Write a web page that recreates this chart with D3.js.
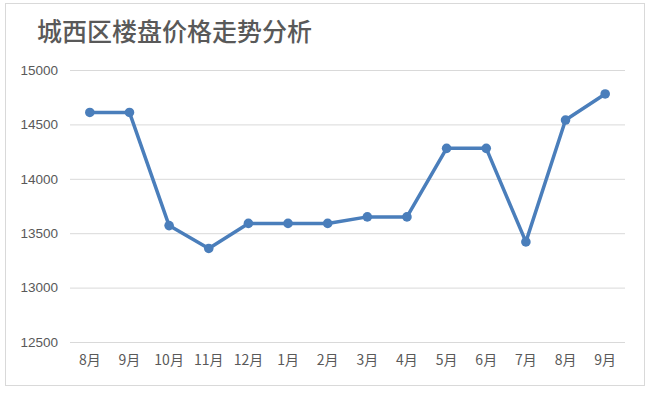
<!DOCTYPE html>
<html><head><meta charset="utf-8">
<script src="https://cdn.jsdelivr.net/npm/d3@7/dist/d3.min.js"></script>
<style>
html,body{margin:0;padding:0;background:#fff;}
svg{display:block;}
</style></head>
<body><svg id="c" width="650" height="394"></svg>
<script>
const title = "城西区楼盘价格走势分析";
const categories = ["8月","9月","10月","11月","12月","1月","2月","3月","4月","5月","6月","7月","8月","9月"];
const values = [14610,14610,13570,13360,13590,13590,13590,13650,13650,14280,14280,13420,14540,14780];
const yTicks = [12500,13000,13500,14000,14500,15000];

(function(){
const svg = d3.select("#c");
svg.append("rect").attr("x",5.5).attr("y",3.5).attr("width",639).attr("height",382)
  .attr("fill","#fff").attr("stroke","#d9d9d9").attr("stroke-width",1);

svg.append("text").attr("x",37).attr("y",41).text(title)
  .attr("font-family","'Noto Sans CJK SC'").attr("font-size",25).attr("font-weight",500).attr("fill","#595959");

const pl=70, pr=625, pt=70, pb=342;
const idx = categories.map((d,i)=>i);
const x = d3.scaleBand().domain(idx).range([pl,pr]);
const y = d3.scaleLinear().domain([12500,15000]).range([pb,pt]);

const gy = svg.append("g").attr("transform",`translate(${pl},0)`)
  .call(d3.axisLeft(y).tickValues(yTicks).tickSize(-(pr-pl)).tickPadding(12).tickFormat(d3.format("d")));
gy.select(".domain").remove();
gy.selectAll(".tick line").attr("stroke","#d9d9d9").attr("stroke-width",1);
gy.selectAll(".tick text").attr("font-family","'Liberation Sans', Arial, sans-serif").attr("font-size",13.5).attr("fill","#595959");

const gx = svg.append("g").attr("transform",`translate(0,${pb})`)
  .call(d3.axisBottom(x).tickSize(0).tickPadding(13).tickFormat(i=>categories[i]));
gx.select(".domain").remove();
gx.selectAll(".tick text").attr("font-family","'Noto Sans CJK SC'").attr("font-size",14).attr("fill","#595959");

const cx = i => x(i)+x.bandwidth()/2;
const line = d3.line().x((d,i)=>cx(i)).y(d=>y(d));
svg.append("path").datum(values).attr("d",line).attr("fill","none")
  .attr("stroke","#4a7ebb").attr("stroke-width",3.5).attr("stroke-linejoin","round");
svg.selectAll("circle.pt").data(values).join("circle").attr("class","pt")
  .attr("cx",(d,i)=>cx(i)).attr("cy",d=>y(d)).attr("r",4.8).attr("fill","#4a7ebb");
})();
</script></body></html>
